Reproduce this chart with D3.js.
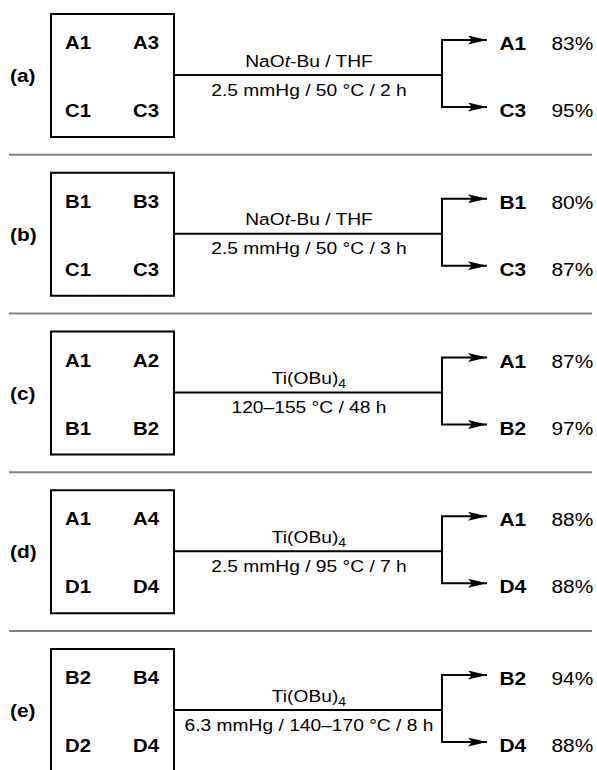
<!DOCTYPE html>
<html>
<head>
<meta charset="utf-8">
<script src="https://cdn.jsdelivr.net/npm/d3@7"></script>
<style>
  body { margin: 0; background: #fff; }
  text { font-family: Arial, "Liberation Sans", Helvetica, sans-serif; fill: #000; }
</style>
</head>
<body>
<div id="chart"></div>
<script>
// Scheme data
const panels = ["(a)", "(b)", "(c)", "(d)", "(e)"];
const reactants = [
    ["A1", "A3", "C1", "C3"],
    ["B1", "B3", "C1", "C3"],
    ["A1", "A2", "B1", "B2"],
    ["A1", "A4", "D1", "D4"],
    ["B2", "B4", "D2", "D4"]
];
const reagents = ["NaOt-Bu / THF", "NaOt-Bu / THF", "Ti(OBu)4", "Ti(OBu)4", "Ti(OBu)4"];
const conditions = [
    "2.5 mmHg / 50 °C / 2 h",
    "2.5 mmHg / 50 °C / 3 h",
    "120–155 °C / 48 h",
    "2.5 mmHg / 95 °C / 7 h",
    "6.3 mmHg / 140–170 °C / 8 h"
];
const productsTop = ["A1", "B1", "A1", "A1", "B2"];
const productsBottom = ["C3", "C3", "B2", "D4", "D4"];
const yieldsTop = [83, 80, 87, 88, 94];
const yieldsBottom = [95, 87, 97, 88, 88];

const width = 597, height = 770;
const stretch = 1.13;   // the original lettering is a bit wider than Arial

const svg = d3.select("#chart")
    .append("svg")
        .attr("width", width)
        .attr("height", height);

// Vertical position of each panel's main line
const y = d3.scalePoint()
    .domain(panels)
    .range([75, 710]);

// Horizontal extent of the reaction line
const x = d3.scaleLinear()
    .domain([0, 1])
    .range([174, 442]);

const boxLeft = 51, boxSize = 123;
const upper = -35, lower = 32;

// place a text with horizontal stretch
function label(sel, px, py) {
    return sel.append("text")
        .attr("transform", "translate(" + px + "," + py + ") scale(" + stretch + ",1)");
}

// Arrowhead marker
svg.append("defs").append("marker")
    .attr("id", "head")
    .attr("viewBox", "0 0 19 9")
    .attr("refX", 19)
    .attr("refY", 4.5)
    .attr("markerWidth", 19)
    .attr("markerHeight", 9)
    .attr("markerUnits", "userSpaceOnUse")
    .attr("orient", "auto")
    .append("path")
        .attr("d", "M0,0 L19,4.5 L0,9 L4,4.5 Z")
        .attr("fill", "#000");

// Separators between panels
svg.selectAll(".sep")
    .data(panels.slice(1))
    .enter()
    .append("line")
        .attr("class", "sep")
        .attr("x1", 9)
        .attr("x2", 592)
        .attr("y1", d => y(d) - 79)
        .attr("y2", d => y(d) - 79)
        .attr("stroke", "#808080")
        .attr("stroke-width", 2.2);

const g = svg.selectAll(".panel")
    .data(panels)
    .enter()
    .append("g")
        .attr("class", "panel")
        .attr("transform", d => "translate(0," + y(d) + ")");

// Box of reactants
g.append("rect")
    .attr("x", boxLeft)
    .attr("y", -61)
    .attr("width", boxSize)
    .attr("height", boxSize)
    .attr("fill", "none")
    .attr("stroke", "#000")
    .attr("stroke-width", 2);

// Main line, branch and the two arrows
g.append("path")
    .attr("d", "M" + x(0) + ",0 H" + x(1) + " M" + x(1) + "," + upper + " V" + lower)
    .attr("stroke", "#000")
    .attr("stroke-width", 2)
    .attr("fill", "none");

[upper, lower].forEach(dy => {
    g.append("line")
        .attr("x1", x(1) - 1)
        .attr("x2", 487)
        .attr("y1", dy)
        .attr("y2", dy)
        .attr("stroke", "#000")
        .attr("stroke-width", 2)
        .attr("marker-end", "url(#head)");
});

g.each(function(d, i) {
    const sel = d3.select(this);

    // Panel label
    label(sel, 10, 7)
        .attr("font-size", 18.5)
        .attr("font-weight", "bold")
        .text(d);

    reactants[i].forEach((r, j) => {
        label(sel, j % 2 === 0 ? 65 : 133, j < 2 ? -26 : 42)
            .attr("font-size", 18)
            .attr("font-weight", "bold")
            .text(r);
    });

    // Reagent label (italic t, subscript 4)
    const mid = (x(0) + x(1)) / 2 + 1;
    const rt = label(sel, mid, -8.5)
        .attr("text-anchor", "middle")
        .attr("font-size", 17);
    if (reagents[i].startsWith("NaOt")) {
        rt.append("tspan").text("NaO");
        rt.append("tspan").attr("font-style", "italic").text("t");
        rt.append("tspan").text("-Bu / THF");
    } else {
        rt.append("tspan").text("Ti(OBu)");
        rt.append("tspan").attr("font-size", 12.5).attr("dy", 4).text("4");
    }

    label(sel, mid, 20.5)
        .attr("text-anchor", "middle")
        .attr("font-size", 17)
        .text(conditions[i]);

    // Products and yields
    label(sel, 499.5, upper + 10)
        .attr("font-size", 18.5).attr("font-weight", "bold")
        .text(productsTop[i]);
    label(sel, 499.5, lower + 10)
        .attr("font-size", 18.5).attr("font-weight", "bold")
        .text(productsBottom[i]);
    label(sel, 551.5, upper + 10)
        .attr("font-size", 18.5)
        .text(yieldsTop[i] + "%");
    label(sel, 551.5, lower + 10)
        .attr("font-size", 18.5)
        .text(yieldsBottom[i] + "%");
});
</script>
</body>
</html>
